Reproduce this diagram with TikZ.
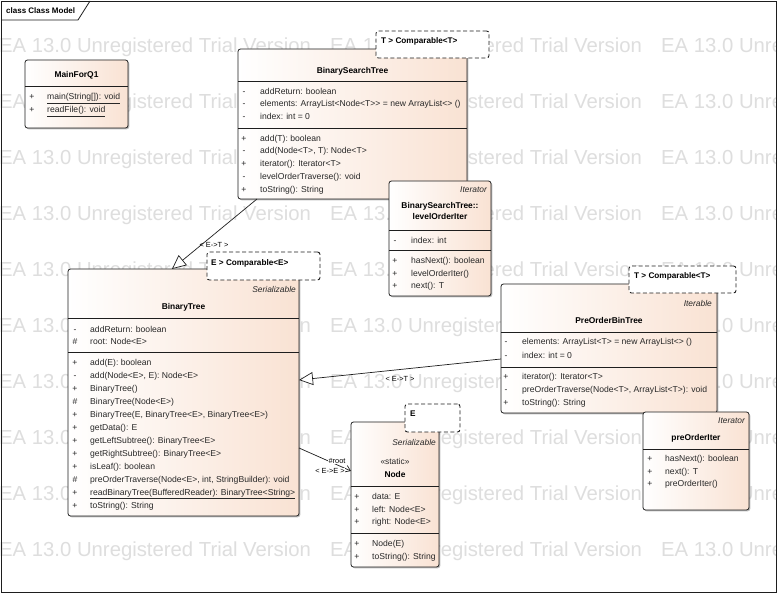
\documentclass[tikz,border=0pt]{standalone}
\usepackage{fontspec}
\setmainfont{Liberation Sans}[Ligatures=TeXOff]
\usetikzlibrary{arrows.meta,shadows,calc}

\definecolor{peach}{RGB}{249,226,211}
\definecolor{wmark}{RGB}{222,222,222}
\definecolor{ink}{RGB}{40,40,40}
\definecolor{boxline}{RGB}{30,30,30}

\tikzset{
  classbox/.style={draw=boxline, line width=0.8pt, rounded corners=2.5pt,
    left color=white, right color=peach, anchor=north west, inner sep=0pt, outer sep=0pt,
    drop shadow={shadow xshift=1.3pt, shadow yshift=-1.3pt, fill=black, opacity=0.25}},
  tmplbox/.style={draw=boxline, line width=0.9pt, dash pattern=on 4pt off 2.5pt,
    rounded corners=2.5pt, fill=white, anchor=north west, inner sep=0pt, outer sep=0pt},
  divider/.style={draw=boxline, line width=0.7pt},
  title/.style={font=\fontsize{8.4}{9}\selectfont\bfseries, text=black, inner sep=0pt, anchor=mid},
  stereo/.style={font=\fontsize{8.4}{9}\selectfont\itshape, text=ink, inner sep=0pt, anchor=mid east},
  vis/.style={font=\fontsize{8.6}{10}\selectfont, text=ink, inner sep=0pt, anchor=mid},
  mtext/.style={font=\fontsize{8.6}{10}\selectfont, text=ink, inner sep=0pt, anchor=mid west},
  tmpltext/.style={font=\fontsize{8.2}{9}\selectfont\bfseries, text=black, inner sep=0pt, anchor=mid west},
  lbl/.style={font=\fontsize{7.4}{8}\selectfont, text=black, inner sep=0pt, anchor=mid},
  endlbl/.style={lbl, fill=white, inner sep=0.6pt},
  wm/.style={font=\fontsize{20.3}{22}\selectfont, text=wmark, inner sep=0pt, anchor=base west},
  conn/.style={draw=boxline, line width=0.7pt},
  gen/.style={conn, -{Triangle[length=14pt,width=13pt,fill=white]}},
  assoc/.style={conn, -{Straight Barb[length=5pt,width=7pt]}},
}

% horizontal compartment line inside a class box, at a given depth below its top
\newcommand{\hdiv}[2]{\draw[divider] ($(#1.north west)+(0,#2)$) -- ($(#1.north east)+(0,#2)$);}
% one class member: name, x of visibility mark, x of text, y, mark, text
\newcommand{\mbr}[6]{\node[vis] (#1-v) at (#2,#4) {#5};\node[mtext] (#1-t) at (#3,#4) {#6};}

\begin{document}
\begin{tikzpicture}[x=1pt,y=-1pt]
\useasboundingbox (0,0) rectangle (777,593);
\fill[white] (0,0) rectangle (777,593);

% evaluation watermark
\foreach \r in {0,...,9}{
  \foreach \c in {0,1,2}{
    \node[wm] (wm-\r-\c) at (-1+331*\c, 53+56*\r) {EA 13.0 Unregistered Trial Version};
  }
}

% diagram frame and its name tab
\draw[boxline, line width=0.8pt] (1,1) rectangle (776,592);
\draw[boxline, line width=0.8pt] (1,20) -- (78,20) -- (90,1);
\node[font=\fontsize{8}{9}\selectfont\bfseries, inner sep=0pt, anchor=mid west] (frame-name) at (6,11) {class Class Model};

% ---------------- MainForQ1 ----------------
\node[classbox, minimum width=103pt, minimum height=68pt] (mainq) at (25,60) {};
\node[title] (mainq-name) at (76.5,75) {MainForQ1};
\hdiv{mainq}{26}
\mbr{mq1}{32}{47}{97}{+}{\underline{main(String[]): void}}
\mbr{mq2}{32}{47}{110}{+}{\underline{readFile(): void}}

% ---------------- BinarySearchTree ----------------
\node[classbox, minimum width=229pt, minimum height=150pt] (bst) at (238,49) {};
\node[title] (bst-name) at (352.5,70.5) {BinarySearchTree};
\hdiv{bst}{32.5}
\mbr{bst1}{244}{260}{91.5}{-}{addReturn: boolean}
\mbr{bst2}{244}{260}{104}{-}{elements: ArrayList<Node<T>> = new ArrayList<> ()}
\mbr{bst3}{244}{260}{116.5}{-}{index: int = 0}
\hdiv{bst}{79}
\mbr{bst4}{244}{260}{138.5}{+}{add(T): boolean}
\mbr{bst5}{244}{260}{151}{-}{add(Node<T>, T): Node<T>}
\mbr{bst6}{244}{260}{164}{+}{iterator(): Iterator<T>}
\mbr{bst7}{244}{260}{177}{-}{levelOrderTraverse(): void}
\mbr{bst8}{244}{260}{190}{+}{toString(): String}
\node[tmplbox, minimum width=113pt, minimum height=27pt] (bst-tpl) at (376,31) {};
\node[tmpltext] (bst-tpl-t) at (381,41) {T > Comparable<T>};

% ---------------- BinarySearchTree::levelOrderIter ----------------
\node[classbox, minimum width=102pt, minimum height=115pt] (loi) at (389,181) {};
\node[stereo] (loi-st) at (487,190) {Iterator};
\node[title] (loi-name1) at (440,205.5) {BinarySearchTree::};
\node[title] (loi-name2) at (440,217) {levelOrderIter};
\hdiv{loi}{49}
\mbr{loi1}{395}{411}{240.5}{-}{index: int}
\hdiv{loi}{69.5}
\mbr{loi2}{395}{411}{261}{+}{hasNext(): boolean}
\mbr{loi3}{395}{411}{273.5}{+}{levelOrderIter()}
\mbr{loi4}{395}{411}{286}{+}{next(): T}

% ---------------- BinaryTree ----------------
\node[classbox, minimum width=231pt, minimum height=247pt] (bt) at (68,269) {};
\node[stereo] (bt-st) at (296,290) {Serializable};
\node[title] (bt-name) at (183.5,306.5) {BinaryTree};
\hdiv{bt}{49}
\mbr{bt1}{75}{90}{329.5}{-}{addReturn: boolean}
\mbr{bt2}{75}{90}{342}{\#}{root: Node<E>}
\hdiv{bt}{83.5}
\begin{scope}
\clip (68,269) rectangle (298,516);
\mbr{bt3}{75}{90}{362.5}{+}{add(E): boolean}
\mbr{bt4}{75}{90}{375.5}{-}{add(Node<E>, E): Node<E>}
\mbr{bt5}{75}{90}{388.5}{+}{BinaryTree()}
\mbr{bt6}{75}{90}{401.5}{\#}{BinaryTree(Node<E>)}
\mbr{bt7}{75}{90}{414.5}{+}{BinaryTree(E, BinaryTree<E>, BinaryTree<E>)}
\mbr{bt8}{75}{90}{427.5}{+}{getData(): E}
\mbr{bt9}{75}{90}{440.5}{+}{getLeftSubtree(): BinaryTree<E>}
\mbr{bt10}{75}{90}{453.5}{+}{getRightSubtree(): BinaryTree<E>}
\mbr{bt11}{75}{90}{466.5}{+}{isLeaf(): boolean}
\mbr{bt12}{75}{90}{479.5}{\#}{preOrderTraverse(Node<E>, int, StringBuilder): void}
\mbr{bt13}{75}{90}{492.5}{+}{\underline{readBinaryTree(BufferedReader): BinaryTree<String>}}
\mbr{bt14}{75}{90}{505.5}{+}{toString(): String}
\end{scope}
\node[tmplbox, minimum width=113pt, minimum height=28pt] (bt-tpl) at (207,252) {};
\node[tmpltext] (bt-tpl-t) at (211,262.5) {E > Comparable<E>};

% ---------------- PreOrderBinTree ----------------
\node[classbox, minimum width=216pt, minimum height=129pt] (pobt) at (501,284) {};
\node[stereo] (pobt-st) at (712,304) {Iterable};
\node[title] (pobt-name) at (609,321) {PreOrderBinTree};
\hdiv{pobt}{48}
\mbr{pobt1}{506}{522}{342}{-}{elements: ArrayList<T> = new ArrayList<> ()}
\mbr{pobt2}{506}{522}{355.5}{-}{index: int = 0}
\hdiv{pobt}{83}
\mbr{pobt3}{506}{522}{377}{+}{iterator(): Iterator<T>}
\mbr{pobt4}{506}{522}{390}{-}{preOrderTraverse(Node<T>, ArrayList<T>): void}
\mbr{pobt5}{506}{522}{403}{+}{toString(): String}
\node[tmplbox, minimum width=107pt, minimum height=27pt] (pobt-tpl) at (629,266) {};
\node[tmpltext] (pobt-tpl-t) at (634,275.5) {T > Comparable<T>};

% ---------------- preOrderIter ----------------
\node[classbox, minimum width=106pt, minimum height=98pt] (poi) at (643,412) {};
\node[stereo] (poi-st) at (745,421) {Iterator};
\node[title] (poi-name) at (696,438) {preOrderIter};
\hdiv{poi}{37}
\mbr{poi1}{650}{665}{459}{+}{hasNext(): boolean}
\mbr{poi2}{650}{665}{471.5}{+}{next(): T}
\mbr{poi3}{650}{665}{484}{+}{preOrderIter()}

% ---------------- Node ----------------
\node[classbox, minimum width=88pt, minimum height=145pt] (nd) at (351,422) {};
\node[stereo] (nd-st) at (436,443) {Serializable};
\node[font=\fontsize{8.4}{9}\selectfont, text=ink, inner sep=0pt, anchor=mid] (nd-static) at (395,462) {«static»};
\node[title] (nd-name) at (395,475) {Node};
\hdiv{nd}{64}
\mbr{nd1}{357}{372}{497}{+}{data: E}
\mbr{nd2}{357}{372}{509.5}{+}{left: Node<E>}
\mbr{nd3}{357}{372}{522}{+}{right: Node<E>}
\hdiv{nd}{111}
\mbr{nd4}{357}{372}{544}{+}{Node(E)}
\mbr{nd5}{357}{372}{556.5}{+}{toString(): String}
\node[tmplbox, minimum width=55pt, minimum height=28pt] (nd-tpl) at (405,404) {};
\node[tmpltext] (nd-tpl-t) at (410,414) {E};

% ---------------- connectors ----------------
\draw[gen] ($(bst.north west)+(19,150)$) -- ($(bt.north west)+(104,0)$);
\node[lbl] (lab-bst) at (214,245) {< E->T >};
\draw[gen] ($(pobt.north west)+(0,75)$) -- ($(bt.north east)+(0,111)$);
\node[lbl] (lab-pobt) at (400,379) {< E->T >};
\draw[assoc] ($(bt.north east)+(0,179)$) -- ($(nd.north west)+(0,49)$);
\node[endlbl] (lab-root) at (337,461) {\#root};
\node[endlbl] (lab-bind) at (330,471) {< E->E >};

\end{tikzpicture}
\end{document}
